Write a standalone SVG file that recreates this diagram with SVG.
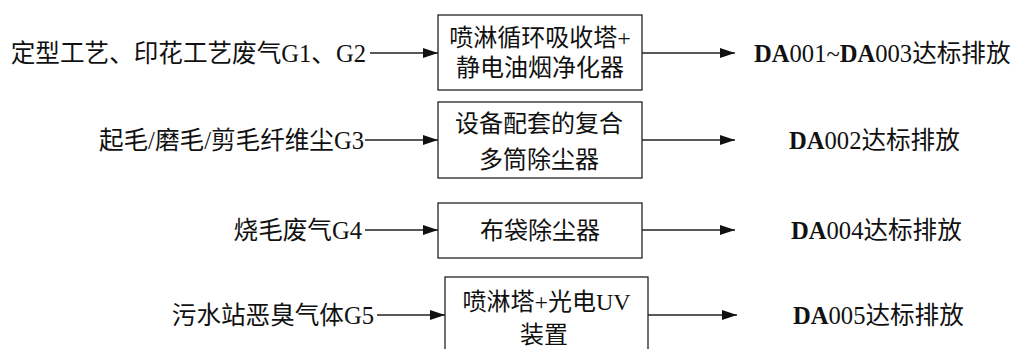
<svg xmlns="http://www.w3.org/2000/svg" width="1015" height="349" viewBox="0 0 1015 349">
  <style>
    text { font-family: "Liberation Serif", "Noto Sans CJK SC", serif; font-size: 24px; fill: #111; }
    .lbl { font-size: 24.6px; }
    .mid { text-anchor: middle; }
    .end { text-anchor: end; }
    .b { font-weight: bold; }
    .box { fill: #fff; stroke: #222; stroke-width: 1.3; }
    .flow { fill: none; stroke: #222; stroke-width: 1.3; marker-end: url(#head); }
  </style>
  <defs>
    <marker id="head" markerUnits="userSpaceOnUse" markerWidth="16" markerHeight="11" refX="15" refY="5" orient="auto">
      <path d="M0,0 L15,5 L0,10 Z" fill="#111"/>
    </marker>
  </defs>
  <rect width="1015" height="349" fill="#fff"/>

  <!-- sources -->
  <g id="src-g1g2"><text class="lbl end" x="366" y="61.5">定型工艺、印花工艺废气G1、G2</text></g>
  <g id="src-g3"><text class="lbl end" x="364" y="148.5">起毛/磨毛/剪毛纤维尘G3</text></g>
  <g id="src-g4"><text class="lbl end" x="362" y="238.5">烧毛废气G4</text></g>
  <g id="src-g5"><text class="lbl end" x="374" y="323.5">污水站恶臭气体G5</text></g>

  <!-- treatment units -->
  <g id="unit-spray-esp">
    <rect class="box" x="438" y="15" width="204" height="75"/>
    <text class="mid" x="540" y="45.5">喷淋循环吸收塔+</text>
    <text class="mid" x="540" y="75.5">静电油烟净化器</text>
  </g>
  <g id="unit-multi-cyclone">
    <rect class="box" x="438" y="102" width="204" height="76"/>
    <text class="mid" x="539" y="132">设备配套的复合</text>
    <text class="mid" x="539" y="168">多筒除尘器</text>
  </g>
  <g id="unit-baghouse">
    <rect class="box" x="438" y="203" width="204" height="55"/>
    <text class="mid" x="540" y="239">布袋除尘器</text>
  </g>
  <g id="unit-spray-uv">
    <rect class="box" x="445" y="277" width="203" height="90"/>
    <text class="mid" x="546.5" y="310">喷淋塔+光电UV</text>
    <text class="mid" x="544" y="343">装置</text>
  </g>

  <!-- discharge outlets -->
  <g id="out-da001-003"><text class="lbl" x="754" y="61.5"><tspan class="b">DA</tspan>001~<tspan class="b">DA</tspan>003达标排放</text></g>
  <g id="out-da002"><text class="lbl" x="789" y="148.5"><tspan class="b">DA</tspan>002达标排放</text></g>
  <g id="out-da004"><text class="lbl" x="791" y="238.5"><tspan class="b">DA</tspan>004达标排放</text></g>
  <g id="out-da005"><text class="lbl" x="793" y="323.5"><tspan class="b">DA</tspan>005达标排放</text></g>

  <!-- connectors -->
  <g id="connectors">
    <line class="flow" x1="370" y1="53" x2="438" y2="53"/>
    <line class="flow" x1="365" y1="140" x2="438" y2="140"/>
    <line class="flow" x1="365" y1="230" x2="438" y2="230"/>
    <line class="flow" x1="377" y1="315" x2="445" y2="315"/>
    <line class="flow" x1="642" y1="53" x2="735" y2="53"/>
    <line class="flow" x1="642" y1="140" x2="735" y2="140"/>
    <line class="flow" x1="642" y1="230" x2="735" y2="230"/>
    <line class="flow" x1="648" y1="315" x2="737" y2="315"/>
  </g>
</svg>
